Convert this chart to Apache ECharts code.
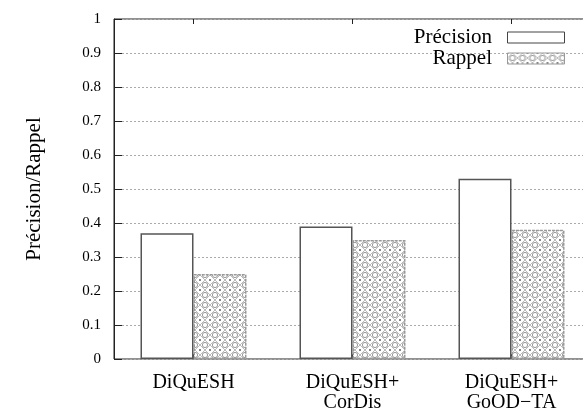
<!DOCTYPE html>
<html><head><meta charset="utf-8">
<script src="https://cdn.jsdelivr.net/npm/echarts@6/dist/echarts.min.js"></script>
<style>html,body{margin:0;padding:0;background:#fff}#c{width:583px;height:411px}</style>
</head><body><div id="c"></div>
<script>
var categories = ['DiQuESH', 'DiQuESH+\nCorDis', 'DiQuESH+\nGoOD\u2212TA'];
var precision = [0.37, 0.39, 0.53];
var rappel = [0.25, 0.35, 0.38];
var yTicks = [0, 0.1, 0.2, 0.3, 0.4, 0.5, 0.6, 0.7, 0.8, 0.9, 1];
var catPos = [0, 1, 2];

function makePattern() {
  var c = document.createElement('canvas');
  c.width = 10; c.height = 10;
  var g = c.getContext('2d');
  g.fillStyle = '#fff'; g.fillRect(0, 0, 10, 10);
  g.strokeStyle = '#9a9a9a'; g.lineWidth = 1;
  g.beginPath(); g.arc(5, 5, 2.6, 0, Math.PI * 2); g.stroke();
  g.fillStyle = '#888';
  g.fillRect(0, 0, 1, 1); g.fillRect(9, 9, 1, 1); g.fillRect(9, 0, 1, 1); g.fillRect(0, 9, 1, 1);
  g.strokeStyle = '#bbb';
  g.beginPath(); g.moveTo(0, 5); g.lineTo(5, 0); g.lineTo(10, 5); g.lineTo(5, 10); g.closePath(); g.stroke();
  return c;
}
var pat = {image: makePattern(), repeat: 'repeat'};
var font = 'Liberation Serif';
var chart = echarts.init(document.getElementById('c'));
chart.setOption({
  animation: false,
  textStyle: {fontFamily: font},
  grid: {left: 114, right: -8, top: 19, bottom: 52, outerBoundsMode: 'none', containLabel: false,
         show: true, borderColor: '#222', borderWidth: 1, backgroundColor: 'transparent'},
  legend: {
    orient: 'vertical', right: 13, top: 22, align: 'right',
    itemWidth: 57, itemHeight: 11, itemGap: 0,
    formatter: function (n) { return n + '\u2002'; },
    textStyle: {fontFamily: font, fontSize: 21, color: '#000'},
    data: [
      {name: 'Précision', icon: 'rect', itemStyle: {color: '#fff', borderColor: '#444', borderWidth: 1}},
      {name: 'Rappel', icon: 'rect', itemStyle: {color: pat, borderColor: '#999', borderWidth: 1}}
    ]
  },
  xAxis: [{
    type: 'value', min: -0.5, max: 2.5, position: 'bottom',
    splitLine: {show: false},
    axisLine: {show: false},
    axisTick: {show: true, inside: true, length: 5, customValues: catPos, lineStyle: {color: '#222'}},
    axisLabel: {
      customValues: catPos,
      formatter: function (v) { return categories[Math.round(v)]; },
      fontFamily: font, fontSize: 20, color: '#000', margin: 14, lineHeight: 20
    }
  }, {
    type: 'value', min: -0.5, max: 2.5, position: 'top',
    splitLine: {show: false},
    axisLine: {show: false},
    axisTick: {show: true, inside: true, length: 5, customValues: catPos, lineStyle: {color: '#222'}},
    axisLabel: {show: false}
  }],
  yAxis: {
    type: 'value', min: 0, max: 1, interval: 0.1,
    name: 'Précision/Rappel', nameLocation: 'middle', nameGap: 69,
    nameTextStyle: {fontFamily: font, fontSize: 21, color: '#000'},
    axisLine: {show: true, onZero: false, lineStyle: {color: '#222'}},
    axisTick: {show: true, inside: true, length: 8, lineStyle: {color: '#222'}},
    axisLabel: {
      fontFamily: font, fontSize: 15, color: '#000', margin: 13,
      customValues: yTicks,
      formatter: function (v) { return String(Math.round(v * 10) / 10); }
    },
    splitLine: {show: true, lineStyle: {color: '#aaa', type: [2, 2], width: 1}}
  },
  series: [
    {
      name: 'Précision', type: 'bar', barWidth: 53, barGap: '0%', xAxisIndex: 0,
      data: precision.map(function (v, i) { return [catPos[i], v]; }),
      itemStyle: {color: '#fff', borderColor: '#555', borderWidth: 1.5}
    },
    {
      name: 'Rappel', type: 'bar', barWidth: 53, barGap: '0%', xAxisIndex: 0,
      data: rappel.map(function (v, i) { return [catPos[i], v]; }),
      itemStyle: {color: pat, borderColor: '#999', borderWidth: 1.5, borderType: [3, 1]}
    }
  ]
});
</script></body></html>
